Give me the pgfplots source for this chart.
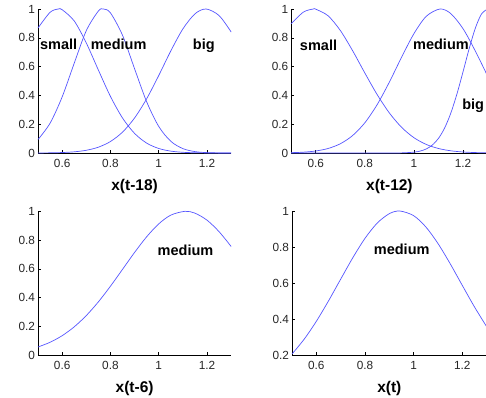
\documentclass[border=0pt]{standalone}
\usepackage{fontspec}
\setmainfont{Liberation Sans}
\usepackage{pgfplots}
\pgfplotsset{compat=1.18}
\definecolor{mfblue}{RGB}{85,85,255}
\pgfplotsset{mf/.style={
  scale only axis, height=144pt,
  xmin=0.5, xmax=1.3, ymin=0, ymax=1,
  axis lines=left,
  axis line style={-, line width=0.8pt, black},
  x axis line style={-}, y axis line style={-},
  xtick={0.6,0.8,1,1.2}, ytick={0,0.2,0.4,0.6,0.8,1},
  tick align=inside, major tick length=3pt,
  tick style={black, line width=0.6pt},
  /pgf/number format/assume math mode=true,
  ticklabel style={font=\fontsize{11.8}{13}\selectfont, text=black!85},
  yticklabel style={xshift=0.5pt},
  xticklabel style={yshift=-2.5pt},
  xlabel style={font=\fontsize{15.5}{17}\selectfont\bfseries, yshift=-5pt},
  clip=false,
}}
\tikzset{mfl/.style={mfblue, line width=0.7pt, smooth},
  lbl/.style={anchor=base west, font=\fontsize{14.5}{16}\selectfont\bfseries, inner sep=0pt}}
\begin{document}
\begin{tikzpicture}
% ---------- top left ----------
\begin{axis}[mf, width=193.2pt, at={(38pt,244pt)}, anchor=south west, xlabel={x(t-18)}]
\addplot[mfl] coordinates {(0.50,0.868)(0.55,0.977)(0.584,1.0)(0.60,0.995)(0.65,0.917)(0.70,0.764)(0.75,0.576)(0.80,0.393)(0.85,0.243)(0.90,0.136)(0.95,0.0686)(1.00,0.0314)(1.05,0.0130)(1.10,0.0049)(1.15,0.0017)(1.20,0.0005)(1.25,0.0001)(1.30,0.0)};
\addplot[mfl] coordinates {(0.50,0.0936)(0.55,0.2069)(0.60,0.3894)(0.65,0.6236)(0.70,0.8499)(0.75,0.9859)(0.771,1.0)(0.80,0.9732)(0.85,0.8176)(0.90,0.5846)(0.95,0.3557)(1.00,0.1842)(1.05,0.0812)(1.10,0.0304)(1.15,0.0097)(1.20,0.0026)(1.25,0.0006)(1.30,0.0001)};
\addplot[mfl] coordinates {(0.50,0.0004)(0.55,0.0012)(0.60,0.0033)(0.65,0.0082)(0.70,0.0189)(0.75,0.0404)(0.80,0.0797)(0.85,0.1450)(0.90,0.2434)(0.95,0.3768)(1.00,0.5382)(1.05,0.7091)(1.10,0.8619)(1.15,0.9665)(1.196,1.0)(1.25,0.9541)(1.30,0.8399)};
\node[lbl] at (axis cs:0.508,0.722) {small};
\node[lbl] at (axis cs:0.718,0.722) {medium};
\node[lbl] at (axis cs:1.141,0.722) {big};
\end{axis}
% ---------- top right ----------
\begin{axis}[mf, width=196.4pt, at={(291.2pt,244pt)}, anchor=south west, xlabel={x(t-12)}]
\addplot[mfl] coordinates {(0.50,0.8976)(0.55,0.9789)(0.59,1.0)(0.60,0.9987)(0.65,0.9531)(0.70,0.851)(0.75,0.7108)(0.80,0.5554)(0.85,0.4060)(0.90,0.2777)(0.95,0.1776)(1.00,0.1063)(1.05,0.0595)(1.10,0.0312)(1.15,0.0153)(1.20,0.0070)(1.25,0.0030)(1.30,0.0012)};
\addplot[mfl] coordinates {(0.50,0.0022)(0.55,0.0058)(0.60,0.0140)(0.65,0.0312)(0.70,0.0641)(0.75,0.1210)(0.80,0.2100)(0.85,0.3355)(0.90,0.4930)(0.95,0.6666)(1.00,0.8292)(1.05,0.9491)(1.106,1.0)(1.15,0.9682)(1.20,0.8631)(1.25,0.7078)(1.30,0.5341)};
\addplot[mfl] coordinates {(0.50,0.0)(0.60,0.0)(0.70,0.0)(0.80,0.0)(0.85,0.0)(0.90,0.0001)(0.95,0.0009)(1.00,0.0058)(1.025,0.0133)(1.05,0.0281)(1.075,0.0554)(1.10,0.1017)(1.125,0.1738)(1.15,0.2765)(1.175,0.4095)(1.20,0.5647)(1.225,0.7251)(1.25,0.8669)(1.275,0.9649)(1.30,1.0)};
\node[lbl] at (axis cs:0.535,0.715) {small};
\node[lbl] at (axis cs:0.996,0.72) {medium};
\node[lbl] at (axis cs:1.196,0.30) {big};
\end{axis}
% ---------- bottom left ----------
\begin{axis}[mf, width=193.2pt, at={(38pt,41.7pt)}, anchor=south west, xlabel={x(t-6)}]
\addplot[mfl] coordinates {(0.50,0.0577)(0.55,0.0904)(0.60,0.1363)(0.65,0.1977)(0.70,0.2761)(0.75,0.3711)(0.80,0.4798)(0.85,0.5969)(0.90,0.7146)(0.95,0.8233)(1.00,0.9127)(1.05,0.9736)(1.109,1.0)(1.15,0.9871)(1.20,0.9383)(1.25,0.8582)(1.30,0.7553)};
\node[lbl] at (axis cs:0.995,0.693) {medium};
\end{axis}
% ---------- bottom right ----------
\begin{axis}[mf, width=194.6pt, at={(292pt,42pt)}, anchor=south west, xlabel={x(t)},
  ymin=0.2, ytick={0.2,0.4,0.6,0.8,1}]
\addplot[mfl] coordinates {(0.50,0.2054)(0.55,0.2878)(0.60,0.3872)(0.65,0.5004)(0.70,0.6211)(0.75,0.7405)(0.80,0.848)(0.85,0.9326)(0.90,0.9852)(0.943,1.0)(1.00,0.9741)(1.05,0.9118)(1.10,0.8197)(1.15,0.7078)(1.20,0.5870)(1.25,0.4676)(1.30,0.3578)};
\node[lbl] at (axis cs:0.836,0.76) {medium};
\end{axis}
\pgfresetboundingbox
\path[use as bounding box] (0,0) rectangle (486pt,397pt);
\end{tikzpicture}
\end{document}
